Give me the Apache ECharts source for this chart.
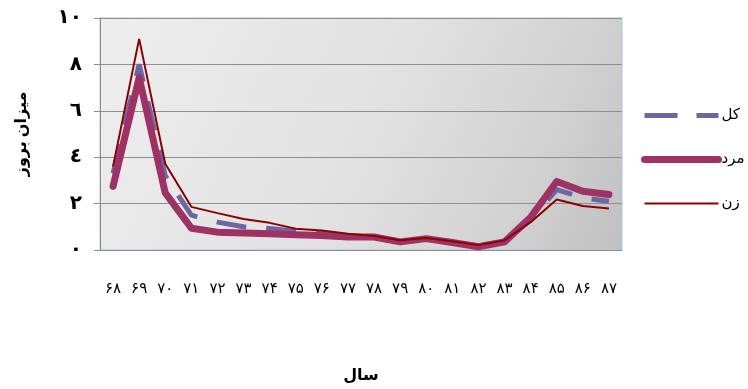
<!DOCTYPE html>
<html><head><meta charset="utf-8">
<script src="https://cdn.jsdelivr.net/npm/echarts@6/dist/echarts.min.js"></script>
<style>html,body{margin:0;padding:0;background:#fff}#c{width:748px;height:389px}</style>
</head><body><div id="c"></div>
<script>
var years = ['۶۸','۶۹','۷۰','۷۱','۷۲','۷۳','۷۴','۷۵','۷۶','۷۷','۷۸','۷۹','۸۰','۸۱','۸۲','۸۳','۸۴','۸۵','۸۶','۸۷'];
var yTickLabels = {0:'٠',2:'٢',4:'٤',6:'٦',8:'٨',10:'١٠'};
var seriesNames = ['کل','مرد','زن'];
var kol  = [3.3, 8.0, 3.2, 1.5, 1.2, 1.0, 0.93, 0.8, 0.72, 0.62, 0.58, 0.38, 0.5, 0.35, 0.17, 0.38, 1.3, 2.6, 2.25, 2.1];
var mard = [2.74, 7.43, 2.46, 0.94, 0.77, 0.73, 0.70, 0.66, 0.63, 0.56, 0.56, 0.35, 0.49, 0.32, 0.14, 0.35, 1.41, 2.95, 2.53, 2.39];
var zan  = [3.6, 9.1, 3.72, 1.86, 1.59, 1.34, 1.17, 0.92, 0.84, 0.70, 0.60, 0.42, 0.52, 0.38, 0.21, 0.42, 1.2, 2.18, 1.90, 1.79];

var FONT = '"Liberation Serif","DejaVu Serif","DejaVu Sans",serif';
var C_KOL = '#6b67a3', C_MARD = '#9e3264', C_ZAN = '#8b0000';
var chart = echarts.init(document.getElementById('c'));
chart.setOption({
  animation: false,
  textStyle: {fontFamily: FONT},
  grid: {
    left: 100, right: 126, top: 18, bottom: 134,
    show: true, borderColor: '#a9c8e6', borderWidth: 1,
    backgroundColor: new echarts.graphic.LinearGradient(0, 0, 1, 1, [
      {offset: 0, color: '#eeeeee'}, {offset: 0.5, color: '#e2e2e2'},
      {offset: 0.8, color: '#d2d2d2'}, {offset: 1, color: '#c0c0c0'}
    ])
  },
  legend: {
    orient: 'vertical', left: 636, top: 103, itemGap: 29,
    itemWidth: 74, itemHeight: 14, align: 'left',
    textStyle: {fontSize: 15, color: '#000', fontFamily: FONT, padding: [0, 0, 0, -2]},
    itemStyle: {opacity: 0},
    data: [
      {name: seriesNames[0], itemStyle: {opacity: 0}, lineStyle: {color: C_KOL, width: 5, type: [33, 19]}},
      {name: seriesNames[1], itemStyle: {opacity: 0}, lineStyle: {color: C_MARD, width: 7, cap: 'round'}},
      {name: seriesNames[2], itemStyle: {opacity: 0}, lineStyle: {color: C_ZAN, width: 2}}
    ]
  },
  xAxis: {
    type: 'category', data: years, boundaryGap: true,
    name: 'سال', nameLocation: 'middle', nameGap: 118,
    nameTextStyle: {fontSize: 16, fontWeight: 'bold', color: '#000', fontFamily: FONT},
    axisLine: {lineStyle: {color: '#8c8c8c'}},
    axisTick: {show: false},
    axisLabel: {margin: 32, fontSize: 15, color: '#000', interval: 0, fontFamily: FONT}
  },
  yAxis: {
    type: 'value', min: 0, max: 10, interval: 2,
    name: 'میزان بروز', nameLocation: 'middle', nameGap: 70, nameRotate: 90,
    nameTextStyle: {fontSize: 16, fontWeight: 'bold', color: '#000', fontFamily: FONT},
    axisLine: {show: true, lineStyle: {color: '#8c8c8c'}},
    axisTick: {show: true, length: 6, lineStyle: {color: '#8c8c8c'}},
    axisLabel: {margin: 18, fontSize: 20, fontWeight: 'bold', color: '#000', fontFamily: FONT,
      formatter: function (v) { return yTickLabels[v]; }},
    splitLine: {lineStyle: {color: '#8e8e8e', width: 1}}
  },
  series: [
    {name: seriesNames[0], type: 'line', data: kol, symbol: 'none', z: 2,
     lineStyle: {color: C_KOL, width: 5, type: [30, 20]}, itemStyle: {color: C_KOL}},
    {name: seriesNames[1], type: 'line', data: mard, symbol: 'none', z: 3,
     lineStyle: {color: C_MARD, width: 7, cap: 'round', join: 'round'}, itemStyle: {color: C_MARD}},
    {name: seriesNames[2], type: 'line', data: zan, symbol: 'none', z: 4,
     lineStyle: {color: C_ZAN, width: 2}, itemStyle: {color: C_ZAN}}
  ]
});
</script></body></html>
